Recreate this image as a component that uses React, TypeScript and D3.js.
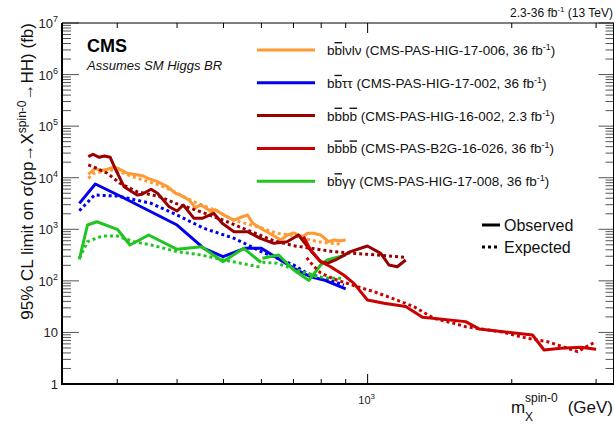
import React from 'react';
import * as d3 from 'd3';

const W = 614, H = 425;
const FONT = "'Liberation Sans', Arial, Helvetica, sans-serif";

// ---- data (mass in GeV, limit in fb) ----
const orangeObsM = [261,270,277,286,294,301,315,324,332,340,347,364,382,397,406,424,437,448,472,481,500,525,548,561,575,606,633,658,680,700,731,749,771,798,829,849,878,900];
const orangeObsV = [11600,15200,13700,14600,15900,15200,12200,11700,11300,10800,9800,8400,6700,5000,4600,3700,2600,3000,2200,2400,1900,1500,1750,1900,1320,970,775,620,775,850,720,840,840,775,575,620,600,620];
const orangeExpM = [261,268,279,291,304,322,340,368,400,433,488,525,603,647,690,736,785,837,885];
const orangeExpV = [9750,12200,13100,14100,13100,10500,9000,7200,5000,3430,2190,1510,1045,836,775,670,575,535,512];

const blueObsM = [250,270,301,400,455,499,554,600,701,760,810,900];
const blueObsV = [3180,7550,4620,1210,428,294,428,428,175,120,104,70];
const blueExpM = [250,269,301,353,400,455,526,600,701,748,810,892];
const blueExpV = [2290,4620,4400,3190,1890,1045,669,368,203,140,112,83];

const darkObsM = [261,267,275,282,290,298,310,330,338,353,364,385,400,412,434,451,477,497,526,561,597,637,679,717,764,798,823,857,921,999,1065,1108,1153,1201];
const darkObsV = [25600,28500,24900,26400,24900,14100,6700,4620,4770,5960,4990,2740,2260,2960,1630,1630,2040,1306,898,898,669,535,575,775,368,235,219,254,368,474,342,203,188,254];
const darkExpM = [261,272,286,304,330,368,397,448,509,560,637,700,760,849,999,1200];
const darkExpV = [17700,15200,12200,7800,5360,4290,3190,2190,1400,970,600,480,430,368,327,286];

const redObsM = [735,760,798,837,891,936,999,1082,1201,1302,1602,1709,2210,2336,2532,2787,3000];
const redObsV = [720,397,235,188,130,89.5,42.5,36.7,31.8,19.7,16.2,11.7,8.9,4.56,4.92,5.15,4.71];
const redExpM = [746,771,798,849,952,1031,1126,1250,1376,1515,1603,1897,2157,2376,2616,2746,2880,3000];
const redExpV = [280,194,142,109,77,61.6,45.9,31.5,18.8,15.0,12.9,10.3,7.69,6.61,4.92,4.23,5.46,6.61];

const greenObsLowM = [250,260,272,300,319,349,400,450,499,551,599];
const greenObsLowV = [262,1210,1400,1000,496,775,409,459,235,428,227];
const greenObsHighM = [603,652,701,754,798,823,900];
const greenObsHighV = [274,317,162,102,203,254,317];
const greenExpLowM = [250,260,279,300,325,353,400,450,501,600];
const greenExpLowV = [274,575,741,741,575,496,368,317,254,183];
const greenExpHighM = [603,647,713,778,837,892];
const greenExpHighV = [230,219,162,122,112,112];

const legendRows = [
  { sym: 'lνlν', ref: 'CMS-PAS-HIG-17-006, 36 fb', color: '#ff9933', sym2: false },
  { sym: 'ττ', ref: 'CMS-PAS-HIG-17-002, 36 fb', color: '#0000ee', sym2: false },
  { sym: 'b', ref: 'CMS-PAS-HIG-16-002, 2.3 fb', color: '#990000', sym2: true },
  { sym: 'b', ref: 'CMS-PAS-B2G-16-026, 36 fb', color: '#cc0000', sym2: true },
  { sym: 'γγ', ref: 'CMS-PAS-HIG-17-008, 36 fb', color: '#22c422', sym2: false },
];

const yExps = [0,1,2,3,4,5,6,7];
const xMinorTicks = [300,400,500,600,700,800,900,2000,3000];
const xMajorTicks = [1000];

const xScale = d3.scaleLog().domain([230, 3270]).range([62, 614]);
const yScale = d3.scaleLog().domain([1, 1e7]).range([384, 23]);

const zip = (m: number[], v: number[]) => m.map((d, i) => [d, v[i]] as [number, number]);
const lineGen = d3.line<[number, number]>().x(d => xScale(d[0])).y(d => yScale(d[1]));

const series = [
  { m: orangeExpM, v: orangeExpV, c: '#ff9933', dash: true },
  { m: orangeObsM, v: orangeObsV, c: '#ff9933', dash: false },
  { m: blueExpM, v: blueExpV, c: '#0000ee', dash: true },
  { m: blueObsM, v: blueObsV, c: '#0000ee', dash: false },
  { m: greenExpLowM, v: greenExpLowV, c: '#22c422', dash: true },
  { m: greenExpHighM, v: greenExpHighV, c: '#22c422', dash: true },
  { m: greenObsLowM, v: greenObsLowV, c: '#22c422', dash: false },
  { m: greenObsHighM, v: greenObsHighV, c: '#22c422', dash: false },
  { m: darkExpM, v: darkExpV, c: '#990000', dash: true },
  { m: darkObsM, v: darkObsV, c: '#990000', dash: false },
  { m: redExpM, v: redExpV, c: '#cc0000', dash: true },
  { m: redObsM, v: redObsV, c: '#cc0000', dash: false },
];

export default function App() {
  const L = 62, R = 613.5, T = 23, B = 384;
  const yMinor: number[] = [];
  for (let e = 0; e < 7; e++) for (let k = 2; k <= 9; k++) yMinor.push(k * Math.pow(10, e));
  return (
    <svg width={W} height={H} style={{ position: 'absolute', left: 0, top: 0, background: '#fff' }} fontFamily={FONT}>
      <rect x={0} y={0} width={W} height={H} fill="#fff" />
      {/* curves */}
      {series.map((s, i) => (
        <path key={i} d={lineGen(zip(s.m, s.v)) || ''} fill="none" stroke={s.c} strokeWidth={3}
          strokeDasharray={s.dash ? '3,3' : undefined} strokeLinejoin="round" />
      ))}
      {/* y ticks */}
      {yExps.map(e => {
        const y = yScale(Math.pow(10, e));
        return (
          <g key={'ym' + e}>
            <line x1={L} x2={L + 17} y1={y} y2={y} stroke="#555" strokeWidth={1} />
            <line x1={R - 15} x2={R} y1={y} y2={y} stroke="#555" strokeWidth={1} />
          </g>
        );
      })}
      {yMinor.map(v => {
        const y = yScale(v);
        return (
          <g key={'yn' + v}>
            <line x1={L} x2={L + 9} y1={y} y2={y} stroke="#555" strokeWidth={1} />
            <line x1={R - 8} x2={R} y1={y} y2={y} stroke="#555" strokeWidth={1} />
          </g>
        );
      })}
      {/* x ticks */}
      {xMinorTicks.map(v => {
        const x = xScale(v);
        return (
          <g key={'xn' + v}>
            <line x1={x} x2={x} y1={B} y2={B - 5} stroke="#000" strokeWidth={1} />
            <line x1={x} x2={x} y1={T} y2={T + 5} stroke="#000" strokeWidth={1} />
          </g>
        );
      })}
      {xMajorTicks.map(v => {
        const x = xScale(v);
        return (
          <g key={'xm' + v}>
            <line x1={x} x2={x} y1={B} y2={B - 10} stroke="#000" strokeWidth={1} />
            <line x1={x} x2={x} y1={T} y2={T + 10} stroke="#000" strokeWidth={1} />
          </g>
        );
      })}
      {/* frame */}
      <line x1={L} x2={L} y1={T} y2={B + 1} stroke="#000" strokeWidth={2} />
      <line x1={L - 1} x2={W} y1={B} y2={B} stroke="#000" strokeWidth={2} />
      <line x1={L} x2={W} y1={T} y2={T} stroke="#000" strokeWidth={1} />
      <line x1={R} x2={R} y1={T} y2={B} stroke="#000" strokeWidth={1} />
      {/* y tick labels */}
      {yExps.map(e => {
        const y = yScale(Math.pow(10, e));
        if (e === 0) return <text key={'yl' + e} x={58} y={y + 5} fontSize={13} textAnchor="end" fill="#222">1</text>;
        if (e === 1) return <text key={'yl' + e} x={58} y={y + 5} fontSize={13} textAnchor="end" fill="#222">10</text>;
        return (
          <text key={'yl' + e} x={58} y={y + 5} fontSize={13} textAnchor="end" fill="#222">
            10<tspan dy={-6} fontSize={9}>{e}</tspan>
          </text>
        );
      })}
      {/* x tick label */}
      {xMajorTicks.map(v => (
        <text key={'xl' + v} x={xScale(v) - 1} y={404} fontSize={11} textAnchor="middle" fill="#222">
          10<tspan dy={-5} fontSize={8}>3</tspan>
        </text>
      ))}
      {/* axis titles */}
      <text transform="translate(33,23) rotate(-90)" textAnchor="end" fontSize={17} fill="#111">
        95% CL limit on σ(pp→X<tspan dy={-7} fontSize={12}>spin-0</tspan><tspan dy={7}>→HH) (fb)</tspan>
      </text>
      <text x={511} y={413} fontSize={17} fill="#111">m</text>
      <text x={525} y={402} fontSize={12} fill="#111">spin-0</text>
      <text x={525} y={421} fontSize={12} fill="#111">X</text>
      <text x={613} y={413} fontSize={17} textAnchor="end" fill="#111">(GeV)</text>
      {/* top right */}
      <text x={613} y={17} fontSize={12} textAnchor="end" fill="#111">
        2.3-36 fb<tspan dy={-5} fontSize={8}>-1</tspan><tspan dy={5}> (13 TeV)</tspan>
      </text>
      {/* CMS label */}
      <text x={87} y={52} fontSize={18} fontWeight="bold" fill="#000">CMS</text>
      <text x={87} y={70} fontSize={13} fontStyle="italic" fill="#111">Assumes SM Higgs BR</text>
      {/* legend */}
      {legendRows.map((r, i) => {
        const y = 50 + i * 32.8;
        return (
          <g key={'lg' + i}>
            <line x1={257} x2={315} y1={y} y2={y} stroke={r.color} strokeWidth={3} />
            <text x={327} y={y + 5} fontSize={13.5} fill="#111">
              b<tspan style={{ textDecoration: 'overline' }}>b</tspan>
              {r.sym2 ? (<><tspan>b</tspan><tspan style={{ textDecoration: 'overline' }}>b</tspan></>) : <tspan>{r.sym}</tspan>}
              <tspan> ({r.ref}</tspan><tspan dy={-5} fontSize={9}>-1</tspan><tspan dy={5}>)</tspan>
            </text>
          </g>
        );
      })}
      <line x1={482} x2={500} y1={225} y2={225} stroke="#000" strokeWidth={3} />
      <line x1={482} x2={500} y1={247} y2={247} stroke="#000" strokeWidth={3} strokeDasharray="3,3" />
      <text x={504} y={231} fontSize={16} fill="#111">Observed</text>
      <text x={504} y={253} fontSize={16} fill="#111">Expected</text>
    </svg>
  );
}
